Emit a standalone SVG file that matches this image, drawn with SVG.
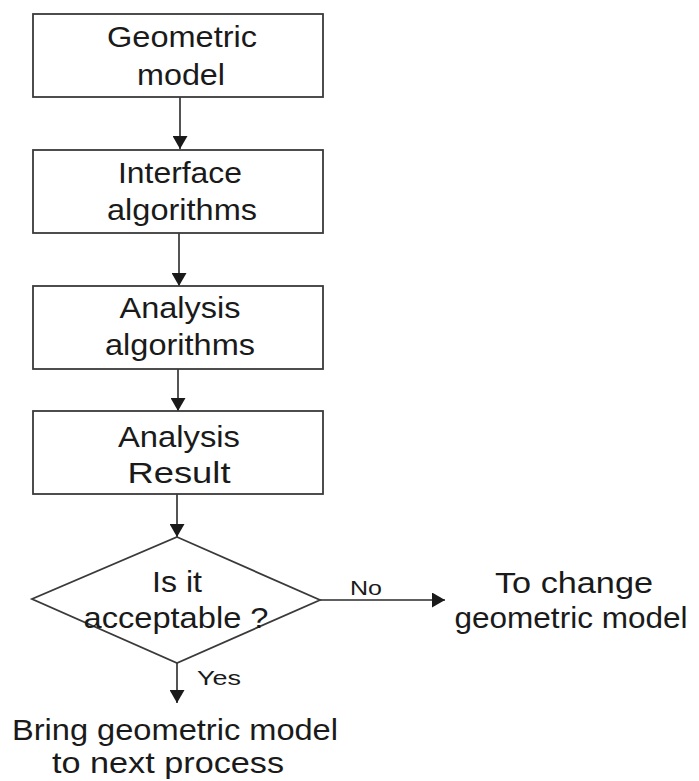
<svg xmlns="http://www.w3.org/2000/svg" width="699" height="781" viewBox="0 0 699 781">
<style>
.box{fill:#fff;stroke:#3a3a3a;stroke-width:1.8}
.t{font-family:"Liberation Sans",Arial,sans-serif;font-size:29px;fill:#1a1a1a;text-anchor:middle}
.s{font-family:"Liberation Sans",Arial,sans-serif;font-size:21px;fill:#1a1a1a}
.c{fill:none;stroke:#2a2a2a;stroke-width:1.6}
</style>
<defs>
<marker id="ah" viewBox="0 0 13 15" refX="13" refY="7.5" markerWidth="13" markerHeight="15" orient="auto" markerUnits="userSpaceOnUse">
<path d="M0,0 L13,7.5 L0,15 z" fill="#1a1a1a"/>
</marker>
</defs>
<rect width="699" height="781" fill="#fff"/>
<g id="connectors">
<path class="c" d="M180,97 L180,149" marker-end="url(#ah)"/>
<path class="c" d="M179,233 L179,286" marker-end="url(#ah)"/>
<path class="c" d="M178,369 L178,411" marker-end="url(#ah)"/>
<path class="c" d="M177,494 L177,537" marker-end="url(#ah)"/>
<path class="c" d="M320,600 L445,600" marker-end="url(#ah)"/>
<path class="c" d="M177,663 L177,703" marker-end="url(#ah)"/>
<text class="s" x="350" y="595" textLength="32" lengthAdjust="spacingAndGlyphs">No</text>
<text class="s" x="197" y="685" textLength="44" lengthAdjust="spacingAndGlyphs">Yes</text>
</g>
<g id="geometric-model">
<rect class="box" x="33" y="14" width="290" height="83"/>
<text class="t" x="182" y="47" textLength="150" lengthAdjust="spacingAndGlyphs">Geometric</text>
<text class="t" x="181" y="85" textLength="88" lengthAdjust="spacingAndGlyphs">model</text>
</g>
<g id="interface-algorithms">
<rect class="box" x="33" y="150" width="290" height="83"/>
<text class="t" x="180" y="183" textLength="124" lengthAdjust="spacingAndGlyphs">Interface</text>
<text class="t" x="182" y="220" textLength="150" lengthAdjust="spacingAndGlyphs">algorithms</text>
</g>
<g id="analysis-algorithms">
<rect class="box" x="33" y="286" width="290" height="83"/>
<text class="t" x="180" y="318" textLength="121" lengthAdjust="spacingAndGlyphs">Analysis</text>
<text class="t" x="180" y="355" textLength="150" lengthAdjust="spacingAndGlyphs">algorithms</text>
</g>
<g id="analysis-result">
<rect class="box" x="33" y="411" width="290" height="83"/>
<text class="t" x="179" y="447" textLength="122" lengthAdjust="spacingAndGlyphs">Analysis</text>
<text class="t" x="179" y="483" textLength="103" lengthAdjust="spacingAndGlyphs">Result</text>
</g>
<g id="decision">
<polygon class="box" points="177,537 320,600 177,663 32,599" fill="none" style="fill:none"/>
<text class="t" x="177" y="592" textLength="50" lengthAdjust="spacingAndGlyphs">Is it</text>
<text class="t" x="176" y="628" textLength="185" lengthAdjust="spacingAndGlyphs">acceptable ?</text>
</g>
<g id="change-model">
<text class="t" x="574" y="593" textLength="158" lengthAdjust="spacingAndGlyphs">To change</text>
<text class="t" x="571" y="628" textLength="233" lengthAdjust="spacingAndGlyphs">geometric model</text>
</g>
<g id="next-process">
<text class="t" x="175" y="740" textLength="326" lengthAdjust="spacingAndGlyphs">Bring geometric model</text>
<text class="t" x="168" y="773" textLength="232" lengthAdjust="spacingAndGlyphs">to next process</text>
</g>
</svg>
